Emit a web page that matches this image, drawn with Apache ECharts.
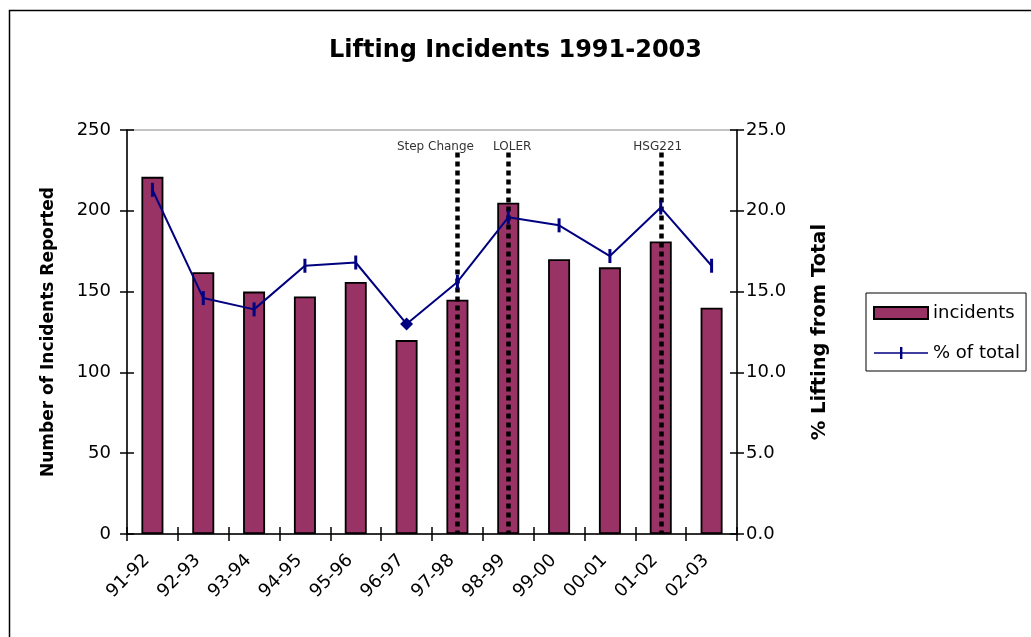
<!DOCTYPE html>
<html>
<head>
<meta charset="utf-8">
<script src="https://cdn.jsdelivr.net/npm/echarts@6/dist/echarts.min.js"></script>
<style>
html,body{margin:0;padding:0;background:#fff;}
#chart{width:1031px;height:637px;}
</style>
</head>
<body>
<div id="chart"></div>
<script>
const categories = ['91-92','92-93','93-94','94-95','95-96','96-97','97-98','98-99','99-00','00-01','01-02','02-03'];
const incidents = [221,162,150,147,156,120,145,205,170,165,181,140];
const pctOfTotal = [21.3,14.6,13.9,16.6,16.8,13.0,15.6,19.6,19.1,17.2,20.2,16.6];
const eventLabels = ['Step Change','LOLER','HSG221'];
const eventCats = ['97-98','98-99','01-02'];
const eventTop = 236;
const eventLabelOffsets = [-22,4,-3];
const highlightIndex = 5;

const FONT = 'DejaVu Sans';
const chart = echarts.init(document.getElementById('chart'), null, {renderer:'canvas'});

const gridRect = {left:127, right:294, top:130, bottom:103};

const lineData = pctOfTotal.map((v,i) => i === highlightIndex
  ? {value:v, symbol:'diamond', symbolSize:13}
  : v);

const markData = eventCats.map((c,i) => [
  {coord:[c, eventTop], label:{formatter:eventLabels[i], offset:[eventLabelOffsets[i],0]}},
  {coord:[c, 0]}
]);

const option = {
  backgroundColor:'#fff',
  animation:false,
  textStyle:{fontFamily:FONT},
  title:{
    text:'Lifting Incidents 1991-2003',
    left:'center', top:34,
    textStyle:{fontFamily:FONT, fontSize:24, fontWeight:'bold', color:'#000'}
  },
  graphic:[{
    type:'rect', left:7, top:8,
    shape:{x:0,y:0,width:1100,height:700},
    style:{fill:'none', stroke:'#000', lineWidth:1.5},
    silent:true
  }],
  legend:{
    orient:'vertical',
    left:866, top:293,
    padding:[11,6,9,7],
    borderColor:'#000', borderWidth:1,
    itemWidth:54, itemHeight:12, itemGap:22,
    textStyle:{fontFamily:FONT, fontSize:18, color:'#000'},
    data:[
      {name:'incidents', icon:'rect'},
      {name:'% of total', icon:'path://M0,5.2 L54,5.2 L54,6.8 L0,6.8 Z M26,0 L28.4,0 L28.4,12 L26,12 Z'}
    ]
  },
  grid:[
    Object.assign({show:true, borderColor:'#888', borderWidth:1, backgroundColor:'transparent'}, gridRect),
    Object.assign({show:false}, gridRect)
  ],
  xAxis:[
    {
      type:'category', data:categories, gridIndex:0, position:'bottom',
      axisLine:{lineStyle:{color:'#000', width:1.5}},
      axisTick:{show:true, inside:false, length:7, lineStyle:{color:'#000', width:1.5}},
      axisLabel:{rotate:45, fontSize:18, fontFamily:FONT, color:'#000', margin:18, interval:0, padding:[0,8,0,0]},
      splitLine:{show:false}
    },
    {
      type:'category', data:categories, gridIndex:1, position:'bottom',
      axisLine:{show:false},
      axisTick:{show:true, inside:true, length:7, lineStyle:{color:'#000', width:1.5}},
      axisLabel:{show:false},
      splitLine:{show:false}
    }
  ],
  yAxis:[
    {
      type:'value', gridIndex:0, position:'left', min:0, max:250, interval:50,
      name:'Number of Incidents Reported', nameLocation:'middle', nameRotate:90, nameGap:70,
      nameTextStyle:{fontFamily:FONT, fontSize:17, fontWeight:'bold', color:'#000'},
      axisLine:{show:true, lineStyle:{color:'#000', width:1.5}},
      axisTick:{show:true, inside:false, length:7, lineStyle:{color:'#000', width:1.5}},
      axisLabel:{fontSize:18, fontFamily:FONT, color:'#000', margin:16},
      splitLine:{show:false}
    },
    {
      type:'value', gridIndex:0, position:'right', min:0, max:25, interval:5,
      name:'% Lifting from Total', nameLocation:'middle', nameRotate:90, nameGap:73,
      nameTextStyle:{fontFamily:FONT, fontSize:19.5, fontWeight:'bold', color:'#000'},
      axisLine:{show:true, lineStyle:{color:'#000', width:1.5}},
      axisTick:{show:true, inside:false, length:7, lineStyle:{color:'#000', width:1.5}},
      axisLabel:{fontSize:18, fontFamily:FONT, color:'#000', margin:9,
        formatter:v => v.toFixed(1)},
      splitLine:{show:false}
    },
    {
      type:'value', gridIndex:1, position:'left', min:0, max:250, interval:50,
      axisLine:{show:false},
      axisTick:{show:true, inside:true, length:7, lineStyle:{color:'#000', width:1.5}},
      axisLabel:{show:false}, splitLine:{show:false}
    },
    {
      type:'value', gridIndex:1, position:'right', min:0, max:25, interval:5,
      axisLine:{show:false},
      axisTick:{show:true, inside:true, length:7, lineStyle:{color:'#000', width:1.5}},
      axisLabel:{show:false}, splitLine:{show:false}
    }
  ],
  series:[
    {
      name:'incidents', type:'bar', xAxisIndex:0, yAxisIndex:0,
      data:incidents, barWidth:22,
      itemStyle:{color:'#993366', borderColor:'#000', borderWidth:1.8},
      z:2,
      markLine:{
        silent:true, symbol:['none','none'],
        lineStyle:{color:'#000', width:4.5, type:[5,4]},
        label:{show:true, position:'start', distance:0, fontFamily:FONT, fontSize:12, color:'#333'},
        data:markData
      }
    },
    {
      name:'% of total', type:'line', xAxisIndex:0, yAxisIndex:1,
      data:lineData,
      symbol:'rect', symbolSize:[3,14],
      lineStyle:{color:'#000080', width:2},
      itemStyle:{color:'#000080'},
      z:5
    }
  ]
};
chart.setOption(option);
</script>
</body>
</html>
